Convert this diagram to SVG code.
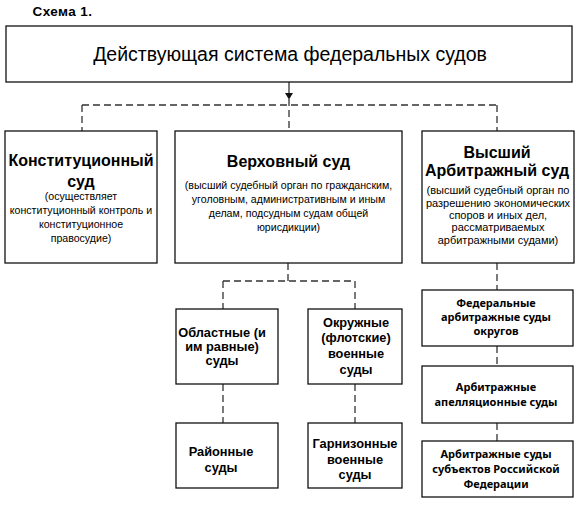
<svg xmlns="http://www.w3.org/2000/svg" width="585" height="507" viewBox="0 0 585 507">
<style>
.box{fill:#fff;stroke:#111;stroke-width:1.3}
.dash{fill:none;stroke:#333;stroke-width:1.3;stroke-dasharray:7,4}
.solid{fill:none;stroke:#222;stroke-width:1.2}
text{font-family:"Liberation Sans",Arial,sans-serif;fill:#000;text-anchor:middle}
.h{font-weight:bold;font-size:16px}
.s{font-size:10.6px}
.sa{font-size:11px}
.b{font-weight:bold;font-size:12.8px}
.c{font-family:"Noto Sans","Open Sans",sans-serif;font-weight:bold;font-size:11px}
</style>
<rect width="585" height="507" fill="#fff"/>
<text x="62.5" y="16" style="font-weight:bold;font-size:13.5px;letter-spacing:0.4px">Схема 1.</text>
<g id="connectors">
<line class="solid" x1="289" y1="82" x2="289" y2="94"/>
<polygon points="285,93 293,93 289,99.5" fill="#111"/>
<line class="dash" x1="289" y1="99" x2="289" y2="131"/>
<line class="dash" x1="82" y1="105" x2="497" y2="105"/>
<line class="dash" x1="82" y1="105" x2="82" y2="131"/>
<line class="dash" x1="497" y1="105" x2="497" y2="131"/>
<line class="dash" x1="288" y1="263" x2="288" y2="281"/>
<line class="dash" x1="223" y1="281" x2="355" y2="281"/>
<line class="dash" x1="223" y1="281" x2="223" y2="309"/>
<line class="dash" x1="355" y1="281" x2="355" y2="309"/>
<line class="dash" x1="223" y1="384" x2="223" y2="423"/>
<line class="dash" x1="355" y1="384" x2="355" y2="423"/>
<line class="dash" x1="497" y1="263" x2="497" y2="290"/>
<line class="dash" x1="497" y1="346" x2="497" y2="366"/>
<line class="dash" x1="497" y1="423" x2="497" y2="441"/>
</g>
<g id="root">
<rect class="box" x="6" y="26" width="566" height="56"/>
<text x="290" y="61" style="font-size:19.5px">Действующая система федеральных судов</text>
</g>
<g id="constitutional">
<rect class="box" x="5" y="131" width="152" height="132"/>
<text class="h" x="81" y="166">Конституционный</text>
<text class="h" x="81" y="187">суд</text>
<text class="s" x="81" y="200">(осуществляет</text>
<text class="s" x="81" y="214">конституционный контроль и</text>
<text class="s" x="81" y="228">конституционное</text>
<text class="s" x="81" y="242">правосудие)</text>
</g>
<g id="supreme">
<rect class="box" x="175" y="131" width="227" height="132"/>
<text class="h" x="288.5" y="167">Верховный суд</text>
<text class="s" x="288.5" y="189">(высший судебный орган по гражданским,</text>
<text class="s" x="288.5" y="203">уголовным, административным и иным</text>
<text class="s" x="288.5" y="217">делам, подсудным судам общей</text>
<text class="s" x="288.5" y="231">юрисдикции)</text>
</g>
<g id="arbitration">
<rect class="box" x="422" y="131" width="152" height="132"/>
<text class="h" x="497" y="158">Высший</text>
<text class="h" x="497" y="176">Арбитражный суд</text>
<text class="sa" x="498" y="194">(высший судебный орган по</text>
<text class="sa" x="498" y="206.5">разрешению экономических</text>
<text class="sa" x="498" y="219">споров и иных дел,</text>
<text class="sa" x="498" y="231">рассматриваемых</text>
<text class="sa" x="498" y="243.5">арбитражными судами)</text>
</g>
<g id="regional">
<rect class="box" x="176" y="309" width="102" height="75"/>
<text class="b" x="222" y="337">Областные (и</text>
<text class="b" x="222" y="351">им равные)</text>
<text class="b" x="222" y="365">суды</text>
</g>
<g id="district-military">
<rect class="box" x="308" y="309" width="94" height="75"/>
<text class="b" x="356" y="327">Окружные</text>
<text class="b" x="356" y="342">(флотские)</text>
<text class="b" x="356" y="358">военные</text>
<text class="b" x="356" y="374">суды</text>
</g>
<g id="district">
<rect class="box" x="176" y="423" width="102" height="65"/>
<text class="b" x="221" y="456">Районные</text>
<text class="b" x="221" y="472">суды</text>
</g>
<g id="garrison">
<rect class="box" x="308" y="423" width="94" height="65"/>
<text class="b" x="355" y="448">Гарнизонные</text>
<text class="b" x="355" y="464">военные</text>
<text class="b" x="355" y="479">суды</text>
</g>
<g id="fed-arb">
<rect class="box" x="422" y="290" width="151" height="56"/>
<text class="c" x="496" y="307">Федеральные</text>
<text class="c" x="496" y="321">арбитражные суды</text>
<text class="c" x="496" y="335">округов</text>
</g>
<g id="appeal-arb">
<rect class="box" x="422" y="366" width="151" height="57"/>
<text class="c" x="496" y="391">Арбитражные</text>
<text class="c" x="496" y="406">апелляционные суды</text>
</g>
<g id="subject-arb">
<rect class="box" x="422" y="441" width="151" height="56"/>
<text class="c" x="496" y="458">Арбитражные суды</text>
<text class="c" x="496" y="473">субъектов Российской</text>
<text class="c" x="496" y="488">Федерации</text>
</g>
</svg>
